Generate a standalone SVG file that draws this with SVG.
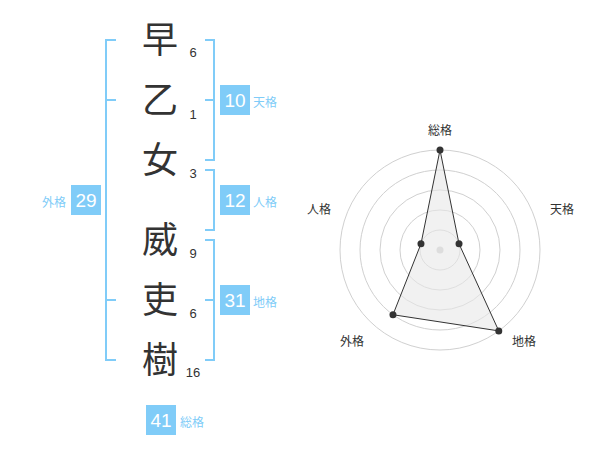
<svg xmlns="http://www.w3.org/2000/svg" width="600" height="470" viewBox="0 0 600 470">
<style>
.ch{font-family:"Noto Sans CJK JP","Noto Sans CJK SC",sans-serif;font-size:36px;fill:#333;text-anchor:middle}
.st{font-family:"Liberation Sans",Arial,sans-serif;font-size:13px;fill:#333;text-anchor:middle}
.br{fill:none;stroke:#80ccf8;stroke-width:2}
.box{fill:#80ccf8}
.bn{font-family:"Liberation Sans",Arial,sans-serif;font-size:19px;fill:#fff;text-anchor:middle}
.bl{font-family:"Noto Sans CJK JP",sans-serif;font-size:12px;fill:#80ccf8}
.ring{fill:none;stroke:#d0d0d0;stroke-width:1}
.rl{font-family:"Noto Sans CJK JP",sans-serif;font-size:12px;fill:#333;text-anchor:middle}
.dot{fill:#333}
</style>
<g id="connectors">
<path class="br" d="M116,40H106V360H116M106,100H116M106,300H116"/>
<path class="br" d="M205,40H214V160H205M214,100H205"/>
<path class="br" d="M205,170H214V230H205"/>
<path class="br" d="M205,240H214V360H205M214,300H205"/>
</g>
<g id="char1"><text class="ch" x="160" y="53">早</text><text class="st" x="193" y="57">6</text></g>
<g id="char2"><text class="ch" x="160" y="113">乙</text><text class="st" x="193" y="119">1</text></g>
<g id="char3"><text class="ch" x="160" y="173">女</text><text class="st" x="193" y="178">3</text></g>
<g id="char4"><text class="ch" x="160" y="253">威</text><text class="st" x="193" y="258">9</text></g>
<g id="char5"><text class="ch" x="160" y="313">吏</text><text class="st" x="193" y="318">6</text></g>
<g id="char6"><text class="ch" x="160" y="373">樹</text><text class="st" x="193" y="377">16</text></g>
<g id="tenkaku"><rect class="box" x="220" y="85" width="30" height="30"/><text class="bn" x="235" y="107">10</text><text class="bl" x="253" y="107">天格</text></g>
<g id="jinkaku"><rect class="box" x="220" y="185" width="30" height="30"/><text class="bn" x="235" y="207">12</text><text class="bl" x="253" y="207">人格</text></g>
<g id="chikaku"><rect class="box" x="220" y="285" width="30" height="30"/><text class="bn" x="235" y="307">31</text><text class="bl" x="253" y="307">地格</text></g>
<g id="gaikaku"><rect class="box" x="71" y="185" width="30" height="30"/><text class="bn" x="86" y="207">29</text><text class="bl" x="66" y="207" text-anchor="end">外格</text></g>
<g id="soukaku"><rect class="box" x="146" y="405" width="30" height="30"/><text class="bn" x="161" y="427">41</text><text class="bl" x="180" y="427">総格</text></g>
<g id="radar">
<circle class="ring" cx="440" cy="250" r="20"/>
<circle class="ring" cx="440" cy="250" r="40"/>
<circle class="ring" cx="440" cy="250" r="60"/>
<circle class="ring" cx="440" cy="250" r="80"/>
<circle class="ring" cx="440" cy="250" r="100"/>
<circle cx="440" cy="250" r="3.5" fill="#ccc"/>
<polygon points="440,150 459.02,243.82 498.78,330.9 392.98,314.72 420.98,243.82" fill="#e8e8e8" fill-opacity="0.6" stroke="#333" stroke-width="1"/>
<circle class="dot" cx="440" cy="150" r="3.5"/>
<circle class="dot" cx="459.02" cy="243.82" r="3.5"/>
<circle class="dot" cx="498.78" cy="330.9" r="3.5"/>
<circle class="dot" cx="392.98" cy="314.72" r="3.5"/>
<circle class="dot" cx="420.98" cy="243.82" r="3.5"/>
<text class="rl" x="440" y="135">総格</text>
<text class="rl" x="562" y="214">天格</text>
<text class="rl" x="524" y="346">地格</text>
<text class="rl" x="352" y="346">外格</text>
<text class="rl" x="319" y="214">人格</text>
</g>
</svg>
